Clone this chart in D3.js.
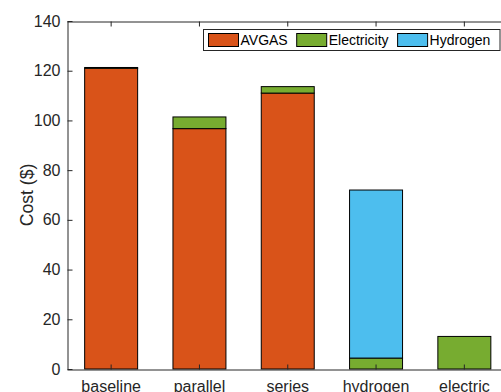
<!DOCTYPE html>
<html>
<head>
<meta charset="utf-8">
<script src="https://cdnjs.cloudflare.com/ajax/libs/d3/7.8.5/d3.min.js"></script>
<style>
  body { margin: 0; background: #fff; }
  svg { display: block; font-family: "Liberation Sans", Arial, sans-serif; }
</style>
</head>
<body>
<div id="chart"></div>
<script>
// bar data
var categories = ["baseline", "parallel", "series", "hydrogen", "electric"];
var fuels = ["AVGAS", "Electricity", "Hydrogen"];
var avgas = [121.0, 96.7, 111.0, 0, 0];
var electricity = [0.3, 4.7, 2.6, 4.4, 13.1];
var hydrogen = [0, 0, 0, 67.6, 0];
var yTicks = [0, 20, 40, 60, 80, 100, 120, 140];
var colors = ["#D95319", "#77AC30", "#4DBEEE"];

var width = 501, height = 392;
var margin = {left: 67, top: 21, right: 508.5, bottom: 369};
var axisColor = "#262626";

var rows = categories.map(function (c, i) {
    return {cat: c, AVGAS: avgas[i], Electricity: electricity[i], Hydrogen: hydrogen[i]};
});

var svg = d3.select("#chart").append("svg")
    .attr("width", width)
    .attr("height", height);

var x = d3.scaleBand()
    .domain(categories)
    .range([margin.left, margin.right])
    .paddingInner(0.4)
    .paddingOuter(0.2);

var y = d3.scaleLinear()
    .domain([0, 140])
    .range([margin.bottom, margin.top]);

var series = d3.stack().keys(fuels)(rows);

// stacked bars
svg.append("g")
    .selectAll("g")
    .data(series)
    .join("g")
    .attr("fill", function (d, i) { return colors[i]; })
    .selectAll("rect")
    .data(function (d) { return d.filter(function (s) { return s[1] - s[0] > 0; }); })
    .join("rect")
    .attr("x", function (d) { return x(d.data.cat); })
    .attr("y", function (d) { return y(d[1]); })
    .attr("width", x.bandwidth())
    .attr("height", function (d) { return y(d[0]) - y(d[1]); })
    .attr("stroke", "#000")
    .attr("stroke-width", 1);

// y axis, ticks pointing in
var yAxis = svg.append("g")
    .attr("transform", "translate(" + (margin.left + 0.5) + ",0)")
    .call(d3.axisLeft(y).tickValues(yTicks).tickSizeInner(-5).tickSizeOuter(0).tickPadding(7));

// bottom and top axes
var xAxis = svg.append("g")
    .attr("transform", "translate(0," + (margin.bottom + 0.5) + ")")
    .call(d3.axisBottom(x).tickSizeInner(-5).tickSizeOuter(0).tickPadding(11));

var topAxis = svg.append("g")
    .attr("transform", "translate(0," + (margin.top + 0.5) + ")")
    .call(d3.axisTop(x).tickSizeInner(-5).tickSizeOuter(0).tickFormat(""));

[yAxis, xAxis, topAxis].forEach(function (a) {
    a.select(".domain").attr("stroke", axisColor);
    a.selectAll(".tick line").attr("stroke", axisColor);
    a.selectAll(".tick text").attr("fill", axisColor).style("font-size", "16px");
});
xAxis.selectAll(".tick text").attr("dy", "0.71em");

// y label
svg.append("text")
    .attr("transform", "translate(33," + ((margin.top + margin.bottom) / 2) + ") rotate(-90)")
    .attr("text-anchor", "middle")
    .attr("fill", axisColor)
    .style("font-size", "17.6px")
    .text("Cost ($)");

// legend
var legend = svg.append("g");
var box = legend.append("rect")
    .attr("fill", "#fff")
    .attr("stroke", axisColor)
    .attr("stroke-width", 1);

var lx = 208.5;
fuels.forEach(function (f, i) {
    legend.append("rect")
        .attr("x", lx)
        .attr("y", 33.5)
        .attr("width", 30)
        .attr("height", 13)
        .attr("fill", colors[i])
        .attr("stroke", "#000");
    var t = legend.append("text")
        .attr("x", lx + 32)
        .attr("y", 45)
        .attr("fill", "#000")
        .style("font-size", "14px")
        .text(f);
    lx += 32 + t.node().getComputedTextLength() + 9;
});
box.attr("x", 203.5).attr("y", 29.5).attr("width", 500 - 203.5).attr("height", 21);
</script>
</body>
</html>
